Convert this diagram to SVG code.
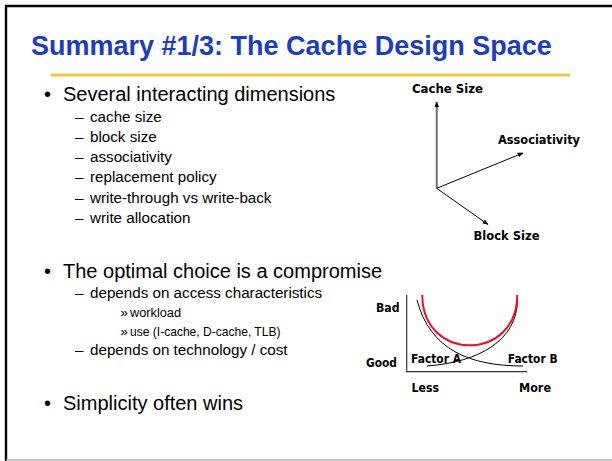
<svg xmlns="http://www.w3.org/2000/svg" width="612" height="461" viewBox="0 0 612 461">
  <style>
    .title { font-family: "Liberation Sans", Arial, sans-serif; font-weight: bold; font-size: 27px; fill: #1C3DBE; }
    .l1 { font-family: "Liberation Sans", Arial, sans-serif; font-size: 20px; fill: #000; }
    .l2 { font-family: "Liberation Sans", Arial, sans-serif; font-size: 15.2px; fill: #000; }
    .l3 { font-family: "Liberation Sans", Arial, sans-serif; font-size: 13.2px; fill: #000; }
    .lab { font-family: "DejaVu Sans", "Liberation Sans", sans-serif; font-weight: bold; font-size: 11.5px; fill: #000; }
    .ax { stroke: #000; stroke-width: 1; fill: none; }
    .curve { fill: none; stroke: #000; stroke-width: 1; }
  </style>
  <defs>
    <marker id="tip" viewBox="0 0 10 10" refX="9" refY="5" markerWidth="6" markerHeight="6" orient="auto" markerUnits="userSpaceOnUse">
      <path d="M0,1 L10,5 L0,9 Z" fill="#000"/>
    </marker>
  </defs>

  <!-- slide frame -->
  <rect width="612" height="461" fill="#fff"/>
  <path d="M6,461 V6 H612" fill="none" stroke="#000" stroke-width="2.4"/>
  <line x1="6" y1="460" x2="612" y2="460" stroke="#b4b4b4" stroke-width="1.5"/>

  <!-- heading -->
  <g id="heading">
    <text class="title" x="31" y="54.5">Summary #1/3: The Cache Design Space</text>
    <line x1="51" y1="75" x2="570" y2="75" stroke="#F8C43A" stroke-width="3"/>
  </g>

  <!-- bullet list -->
  <g id="bullets">
    <text class="l1" x="44" y="101">•</text>
    <text class="l1" x="63" y="101">Several interacting dimensions</text>
    <text class="l2" x="75" y="121.7">–</text><text class="l2" x="90" y="121.7">cache size</text>
    <text class="l2" x="75" y="141.9">–</text><text class="l2" x="90" y="141.9">block size</text>
    <text class="l2" x="75" y="162.1">–</text><text class="l2" x="90" y="162.1">associativity</text>
    <text class="l2" x="75" y="182.3">–</text><text class="l2" x="90" y="182.3">replacement policy</text>
    <text class="l2" x="75" y="202.5">–</text><text class="l2" x="90" y="202.5">write-through vs write-back</text>
    <text class="l2" x="75" y="222.7">–</text><text class="l2" x="90" y="222.7">write allocation</text>

    <text class="l1" x="44" y="278.3">•</text>
    <text class="l1" x="63" y="278.3">The optimal choice is a compromise</text>
    <text class="l2" x="75" y="297.7">–</text><text class="l2" x="90" y="297.7">depends on access characteristics</text>
    <text class="l3" x="120.5" y="317">»</text><text class="l3" x="130" y="317" textLength="51" lengthAdjust="spacingAndGlyphs">workload</text>
    <text class="l3" x="120.5" y="335.5">»</text><text class="l3" x="130" y="335.5" textLength="150.5" lengthAdjust="spacingAndGlyphs">use (I-cache, D-cache, TLB)</text>
    <text class="l2" x="75" y="355">–</text><text class="l2" x="90" y="355">depends on technology / cost</text>

    <text class="l1" x="44" y="410">•</text>
    <text class="l1" x="63" y="410">Simplicity often wins</text>
  </g>

  <!-- design space axes -->
  <g id="space-labels">
    <text class="lab" x="412" y="92.5" textLength="71" lengthAdjust="spacingAndGlyphs">Cache Size</text>
    <text class="lab" x="498" y="144" textLength="82" lengthAdjust="spacingAndGlyphs">Associativity</text>
    <text class="lab" x="473.5" y="240" textLength="66" lengthAdjust="spacingAndGlyphs">Block Size</text>
  </g>
  <g id="space-axes">
    <line x1="436.7" y1="188.3" x2="436.7" y2="102" stroke="#6e6e6e" stroke-width="2" marker-end="url(#tip)"/>
    <line x1="436.7" y1="188.3" x2="523" y2="153" class="ax" marker-end="url(#tip)"/>
    <line x1="436.7" y1="188.3" x2="488" y2="224.5" class="ax" marker-end="url(#tip)"/>
  </g>

  <!-- trade-off chart -->
  <g id="tradeoff-labels">
    <text class="lab" x="376" y="311.7" textLength="23.5" lengthAdjust="spacingAndGlyphs">Bad</text>
    <text class="lab" x="366" y="367.3" textLength="31" lengthAdjust="spacingAndGlyphs">Good</text>
    <text class="lab" x="411.5" y="392.3" textLength="27.5" lengthAdjust="spacingAndGlyphs">Less</text>
    <text class="lab" x="519" y="392.3" textLength="32" lengthAdjust="spacingAndGlyphs">More</text>
    <text class="lab" x="411" y="362.7" textLength="50" lengthAdjust="spacingAndGlyphs">Factor A</text>
    <text class="lab" x="507.7" y="362.7" textLength="50" lengthAdjust="spacingAndGlyphs">Factor B</text>
  </g>
  <g id="tradeoff-chart">
    <path d="M406.7,295 V371.7 H527.3" fill="none" stroke="#333" stroke-width="1.2"/>
    <path class="curve" d="M417,300 C430,350 470,366 523,366"/>
    <path class="curve" d="M427,366 C480,362 517,340 517.5,300"/>
    <path d="M422.3,295 C422.3,362 517.3,362 517.3,295" fill="none" stroke="#E8102A" stroke-width="2"/>
  </g>
</svg>
